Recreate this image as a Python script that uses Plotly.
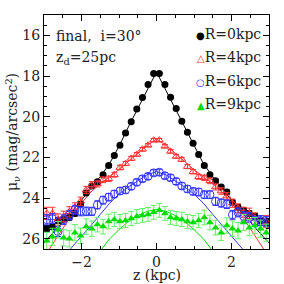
import plotly.graph_objects as go

# ---------------- data ----------------
z = [-2.925, -2.775, -2.625, -2.475, -2.325, -2.175, -2.025, -1.875, -1.725, -1.575,
     -1.425, -1.275, -1.125, -0.975, -0.825, -0.675, -0.525, -0.375, -0.225, -0.075,
     0.075, 0.225, 0.375, 0.525, 0.675, 0.825, 0.975, 1.125, 1.275, 1.425,
     1.575, 1.725, 1.875, 2.025, 2.175, 2.325, 2.475, 2.625, 2.775, 2.925]

mu_r0 = [25.5, 25.4, 25.1, 25.03, 24.95, 24.75, 24.3, 23.75, 23.4, 23.2,
         22.85, 22.4, 21.9, 21.4, 20.8, 20.25, 19.62, 19.05, 18.42, 17.87,
         17.87, 18.41, 19.04, 19.6, 20.22, 20.76, 21.3, 21.85, 22.4, 22.85,
         23.15, 23.45, 23.7, 24.2, 24.45, 24.6, 24.75, 24.9, 25.1, 25.2]
err_r0 = [0.15, 0.15, 0.14, 0.13, 0.12, 0.12, 0.1, 0.1, 0.09, 0.09,
          0.08, 0.08, 0.07, 0.07, 0.06, 0.06, 0.06, 0.05, 0.05, 0.05,
          0.05, 0.05, 0.05, 0.06, 0.06, 0.06, 0.07, 0.07, 0.08, 0.08,
          0.09, 0.09, 0.1, 0.1, 0.12, 0.12, 0.13, 0.14, 0.15, 0.15]

mu_r4 = [24.75, 24.75, 25.05, 24.9, 24.67, 24.45, 24.15, 23.6, 23.35, 23.3,
         23.1, 23.05, 22.85, 22.5, 22.3, 22.05, 21.85, 21.6, 21.4, 21.15,
         21.15, 21.45, 21.7, 21.95, 22.1, 22.45, 22.7, 22.95, 23.0, 23.15,
         23.45, 23.65, 23.9, 24.25, 24.5, 24.7, 24.75, 25.0, 25.25, 25.15]
err_r4 = [0.3, 0.3, 0.28, 0.26, 0.25, 0.22, 0.2, 0.18, 0.16, 0.15,
          0.14, 0.13, 0.12, 0.11, 0.1, 0.1, 0.09, 0.09, 0.08, 0.08,
          0.08, 0.08, 0.09, 0.09, 0.1, 0.1, 0.11, 0.12, 0.13, 0.14,
          0.15, 0.16, 0.18, 0.2, 0.22, 0.25, 0.26, 0.28, 0.3, 0.3]

mu_r6 = [25.06, 25.0, 25.64, 25.06, 24.83, 24.57, 24.65, 24.65, 24.65, 24.33,
         24.1, 23.95, 23.8, 23.65, 23.6, 23.42, 23.22, 23.05, 22.93, 22.76,
         22.73, 22.9, 23.0, 23.18, 23.4, 23.55, 23.67, 23.7, 23.83, 23.83,
         24.16, 24.24, 24.3, 24.82, 24.7, 24.9, 24.95, 25.15, 25.1, 25.15]
err_r6 = [0.25, 0.25, 0.25, 0.24, 0.23, 0.22, 0.22, 0.21, 0.2, 0.2,
          0.19, 0.18, 0.18, 0.17, 0.16, 0.16, 0.15, 0.15, 0.15, 0.15,
          0.15, 0.15, 0.15, 0.15, 0.16, 0.16, 0.17, 0.18, 0.18, 0.19,
          0.2, 0.2, 0.21, 0.22, 0.22, 0.23, 0.24, 0.25, 0.25, 0.25]

mu_r9 = [26.1, 25.9, 25.55, 25.95, 26.0, 25.7, 25.85, 25.4, 25.5, 25.3,
         25.4, 25.15, 25.05, 25.15, 25.1, 25.0, 24.9, 24.85, 24.8, 24.7,
         24.6, 24.75, 24.95, 25.0, 25.05, 25.15, 25.2, 25.1, 24.95, 25.2,
         25.45, 25.7, 25.35, 25.5, 25.6, 25.2, 25.45, 25.35, 25.5, 25.7]
err_r9 = [0.42, 0.42, 0.4, 0.4, 0.4, 0.4, 0.38, 0.38, 0.38, 0.36,
          0.36, 0.36, 0.35, 0.35, 0.35, 0.35, 0.34, 0.34, 0.34, 0.34,
          0.34, 0.34, 0.34, 0.34, 0.35, 0.35, 0.35, 0.35, 0.36, 0.36,
          0.36, 0.38, 0.38, 0.38, 0.4, 0.4, 0.4, 0.4, 0.42, 0.42]

# model curves
z_model = [-3.0, -2.75, -2.5, -2.25, -2.0, -1.75, -1.5, -1.25, -1.0, -0.75, -0.5, -0.25, 0.0,
           0.25, 0.5, 0.75, 1.0, 1.25, 1.5, 1.75, 2.0, 2.25, 2.5, 2.75, 3.0]
model_r0 = [26.2, 25.7, 25.2, 24.65, 24.1, 23.55, 22.95, 22.3, 21.45, 20.5, 19.6, 18.7, 17.8,
            18.7, 19.6, 20.5, 21.45, 22.3, 22.95, 23.55, 24.1, 24.65, 25.2, 25.7, 26.2]
model_r4 = [26.9, 26.2, 25.5, 24.8, 24.25, 23.7, 23.3, 22.95, 22.6, 22.2, 21.8, 21.4, 21.1,
            21.4, 21.8, 22.2, 22.6, 22.95, 23.3, 23.7, 24.25, 24.8, 25.5, 26.2, 26.9]
model_r6 = [28.0, 27.5, 26.95, 26.4, 25.9, 25.35, 24.8, 24.25, 23.8, 23.45, 23.15, 22.85, 22.7,
            22.85, 23.15, 23.45, 23.8, 24.25, 24.8, 25.35, 25.9, 26.4, 26.95, 27.5, 28.0]
z_model9 = [-2.5, -2.25, -2.0, -1.75, -1.5, -1.25, -1.0, -0.75, -0.5, -0.25, 0.0,
            0.25, 0.5, 0.75, 1.0, 1.25, 1.5, 1.75, 2.0, 2.25, 2.5]
model_r9 = [29.0, 28.4, 27.8, 27.2, 26.6, 26.0, 25.55, 25.15, 24.85, 24.65, 24.55,
            24.65, 24.85, 25.15, 25.55, 26.0, 26.6, 27.2, 27.8, 28.4, 29.0]

labels = ["R=0kpc", "R=4kpc", "R=6kpc", "R=9kpc"]
x_ticks = [-2, 0, 2]
x_ticktext = ["\u22122", "0", "2"]
y_ticks = [16, 18, 20, 22, 24, 26]

FONT = "DejaVu Serif"
TXT = "#222222"
BLACK = "#000000"
RED = "#ff3333"
BLUE = "#3333ff"
GREEN = "#00dd00"
GREEN_ERR = "#66ee66"

fig = go.Figure()

# model lines
fig.add_trace(go.Scatter(x=z_model9, y=model_r9, mode="lines", line=dict(color=GREEN, width=1)))
fig.add_trace(go.Scatter(x=z_model, y=model_r6, mode="lines", line=dict(color=BLUE, width=1)))
fig.add_trace(go.Scatter(x=z_model, y=model_r4, mode="lines", line=dict(color=RED, width=1)))
fig.add_trace(go.Scatter(x=z_model, y=model_r0, mode="lines", line=dict(color=BLACK, width=1)))

# data points
fig.add_trace(go.Scatter(x=z, y=mu_r0, mode="markers",
                         marker=dict(symbol="circle", size=7, color=BLACK),
                         error_y=dict(type="data", array=err_r0, color=BLACK, thickness=1, width=3)))
fig.add_trace(go.Scatter(x=z, y=mu_r4, mode="markers",
                         marker=dict(symbol="triangle-up-open", size=7, color=RED, line=dict(width=1)),
                         error_y=dict(type="data", array=err_r4, color=RED, thickness=1, width=3)))
fig.add_trace(go.Scatter(x=z, y=mu_r6, mode="markers",
                         marker=dict(symbol="circle-open", size=8, color=BLUE, line=dict(width=1)),
                         error_y=dict(type="data", array=err_r6, color=BLUE, thickness=1, width=3)))
fig.add_trace(go.Scatter(x=z, y=mu_r9, mode="markers",
                         marker=dict(symbol="triangle-up", size=7, color=GREEN),
                         error_y=dict(type="data", array=err_r9, color=GREEN_ERR, thickness=1, width=3)))

# legend (as text annotations)
leg_sym = ["\u25cf", "\u25b3", "\u25cb", "\u25b2"]
leg_col = [BLACK, RED, BLUE, GREEN]
leg_y = [0.919, 0.821, 0.718, 0.620]
for s, c, lab, yy in zip(leg_sym, leg_col, labels, leg_y):
    fig.add_annotation(xref="paper", yref="paper", x=0.975, y=yy, xanchor="right", yanchor="middle",
                       showarrow=False,
                       text=f"<span style='color:{c};font-size:10px'>{s}</span>{lab}",
                       font=dict(family=FONT, size=14, color=TXT))

fig.add_annotation(xref="paper", yref="paper", x=0.045, y=0.91, xanchor="left", yanchor="middle",
                   showarrow=False, text="final,  i=30\u00b0", font=dict(family=FONT, size=14, color=TXT))
fig.add_annotation(xref="paper", yref="paper", x=0.045, y=0.815, xanchor="left", yanchor="middle",
                   showarrow=False, text="z<sub>d</sub>=25pc", font=dict(family=FONT, size=14, color=TXT))
# x-axis title
fig.add_annotation(xref="paper", yref="paper", x=0.5, y=-0.113, xanchor="center", yanchor="middle",
                   showarrow=False, text="z (kpc)", font=dict(family=FONT, size=14, color=TXT))

axis_common = dict(showline=True, linecolor="black", linewidth=1, mirror="allticks",
                   ticks="inside", ticklen=6, tickcolor="black", showgrid=False, zeroline=False,
                   automargin=False,
                   tickfont=dict(family=FONT, size=14, color=TXT))

fig.update_xaxes(range=[-3, 3], tickvals=x_ticks, ticktext=x_ticktext,
                 minor=dict(dtick=0.5, ticklen=3, ticks="inside", tickcolor="black"),
                 **axis_common)
fig.update_yaxes(range=[26.5, 15], tickvals=y_ticks,
                 minor=dict(dtick=0.5, ticklen=3, ticks="inside", tickcolor="black"),
                 title=dict(text="\u03bc<sub>\u03bd</sub> (mag/arcsec<sup>2</sup>)",
                            font=dict(family=FONT, size=14, color=TXT), standoff=0),
                 **axis_common)

fig.update_layout(width=284, height=284, showlegend=False,
                  margin=dict(l=44, r=15, t=15, b=35),
                  plot_bgcolor="white", paper_bgcolor="white")

fig.write_html("out.html", config={"displayModeBar": False},
               post_script="document.body.style.margin='0';")
